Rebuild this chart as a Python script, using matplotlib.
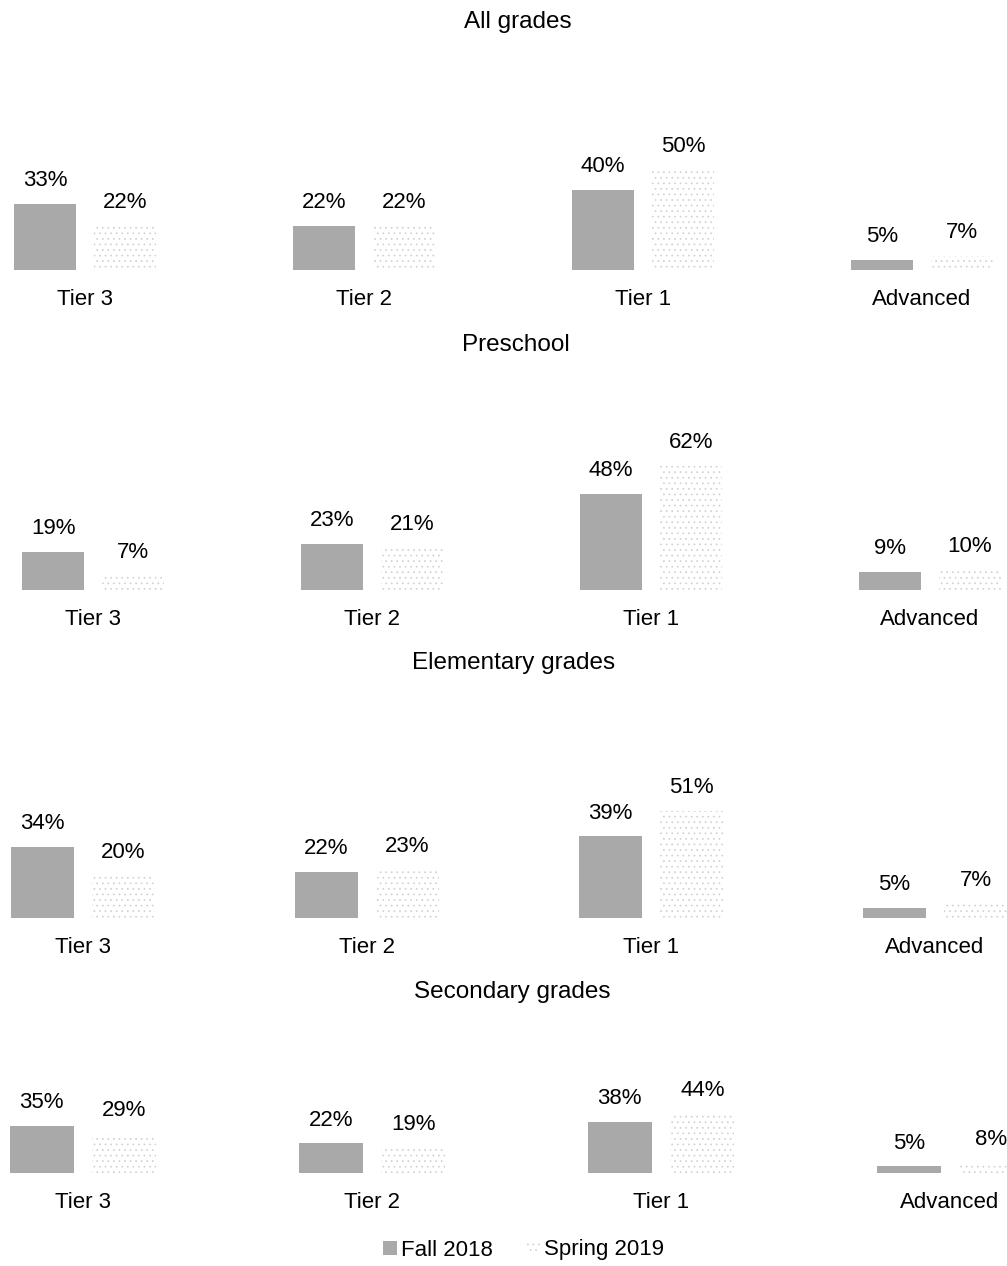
import numpy as np
import matplotlib.pyplot as plt
from matplotlib.patches import Patch

plt.rcParams['font.family'] = ['Liberation Sans', 'DejaVu Sans']
plt.rcParams['hatch.linewidth'] = 0.5

tiers = ['Tier 3', 'Tier 2', 'Tier 1', 'Advanced']
titles = ['All grades', 'Preschool', 'Elementary grades', 'Secondary grades']

fall_all = [33, 22, 40, 5]
spring_all = [22, 22, 50, 7]
fall_pre = [19, 23, 48, 9]
spring_pre = [7, 21, 62, 10]
fall_elem = [34, 22, 39, 5]
spring_elem = [20, 23, 51, 7]
fall_sec = [35, 22, 38, 5]
spring_sec = [29, 19, 44, 8]

fall = [fall_all, fall_pre, fall_elem, fall_sec]
spring = [spring_all, spring_pre, spring_elem, spring_sec]

W, H = 1007, 1266
fig = plt.figure(figsize=(W / 100, H / 100), dpi=100)

# per panel layout in pixels: baseline, px per %, first group centre, group spacing, title x, title y
layout = [
    (270, 2.0, 85, 279, 518, 22),
    (590, 2.0, 93, 279, 516, 345),
    (918, 2.1, 83, 284, 514, 663),
    (1173, 1.35, 83, 289, 512, 992),
]

FALL_C = '#a9a9a9'
SPRING_C = '#d0d0d0'
x = np.arange(len(tiers))

for k, (base, scale, c0, s, tx, ty) in enumerate(layout):
    top = 150
    ax = fig.add_axes([0, 1 - base / H, 1, top / H])
    ax.set_xlim(-c0 / s, (W - c0) / s)
    ax.set_ylim(0, top / scale)
    bw = 0.222
    off = 0.143
    b1 = ax.bar(x - off, fall[k], bw, color=FALL_C, lw=0)
    b2 = ax.bar(x + off, spring[k], bw, color='white', edgecolor=SPRING_C,
                hatch='...', lw=0)
    for bars, vals in ((b1, fall[k]), (b2, spring[k])):
        for r, v in zip(bars, vals):
            ax.annotate(f'{v}%', (r.get_x() + r.get_width() / 2, v),
                        xytext=(0, 9), textcoords='offset points',
                        ha='center', va='bottom', fontsize=16)
    ax.set_xticks(x)
    ax.set_xticklabels(tiers, fontsize=16)
    ax.tick_params(length=0, pad=14)
    ax.set_yticks([])
    for sp in ax.spines.values():
        sp.set_visible(False)
    ax.patch.set_visible(False)
    fig.text(tx / W, 1 - ty / H, titles[k], ha='center', va='center',
             fontsize=17.5)

handles = [Patch(facecolor=FALL_C, lw=0, label='Fall 2018'),
           Patch(facecolor='white', edgecolor=SPRING_C, hatch='...', lw=0,
                 label='Spring 2019')]
fig.legend(handles=handles, loc='center', bbox_to_anchor=(0.52, 1 - 1250 / H),
           ncol=2, frameon=False, fontsize=16, handlelength=0.6,
           handleheight=0.6, handletextpad=0.2, columnspacing=1.5)

fig.savefig('out.png', dpi=100)
